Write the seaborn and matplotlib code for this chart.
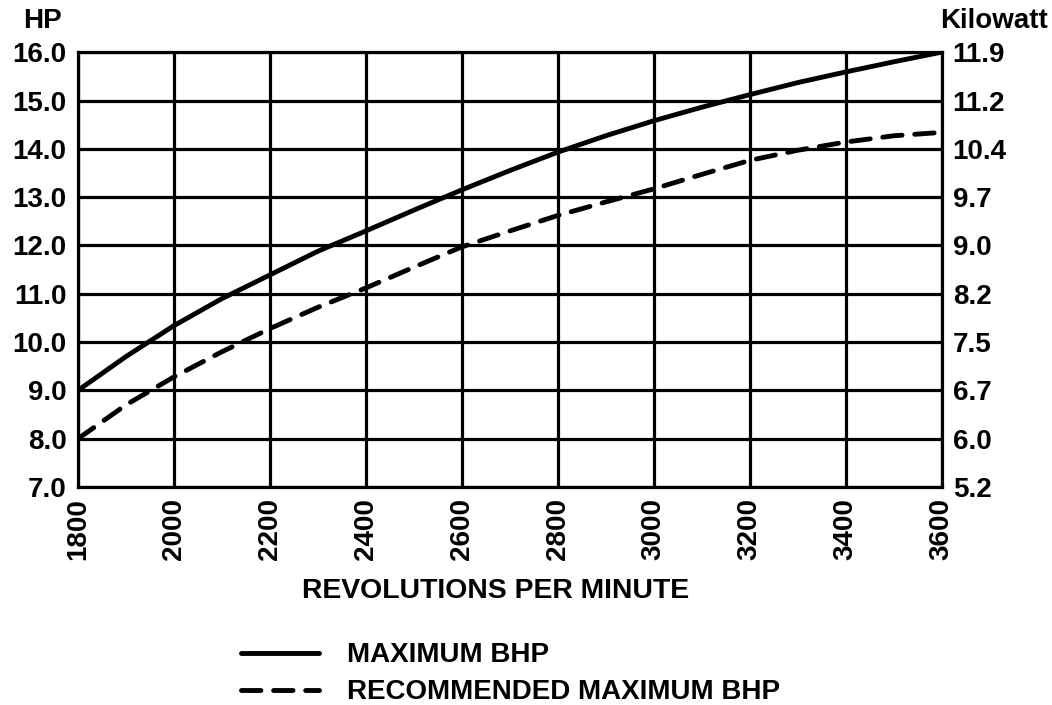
import numpy as np
import pandas as pd
import matplotlib
matplotlib.use("Agg")
import matplotlib.pyplot as plt
import seaborn as sns

# values
rpm = [1800, 1900, 2000, 2100, 2200, 2300, 2400, 2500, 2600, 2700,
       2800, 2900, 3000, 3100, 3200, 3300, 3400, 3500, 3600]
max_bhp = [9.0, 9.7, 10.34, 10.9, 11.39, 11.88, 12.3, 12.73, 13.15, 13.55,
           13.93, 14.27, 14.58, 14.86, 15.12, 15.37, 15.59, 15.8, 16.0]
rec_bhp = [8.0, 8.7, 9.28, 9.8, 10.28, 10.72, 11.12, 11.55, 11.97, 12.3,
           12.62, 12.9, 13.17, 13.47, 13.76, 13.97, 14.14, 14.27, 14.34]

series_names = ["MAXIMUM BHP", "RECOMMENDED MAXIMUM BHP"]
hp_ticks = [7, 8, 9, 10, 11, 12, 13, 14, 15, 16]
hp_labels = ["7.0", "8.0", "9.0", "10.0", "11.0", "12.0", "13.0", "14.0", "15.0", "16.0"]
kw_labels = ["5.2", "6.0", "6.7", "7.5", "8.2", "9.0", "9.7", "10.4", "11.2", "11.9"]
rpm_ticks = list(range(1800, 3601, 200))

df = pd.concat([
    pd.DataFrame({"rpm": rpm, "hp": max_bhp, "curve": series_names[0]}),
    pd.DataFrame({"rpm": rpm, "hp": rec_bhp, "curve": series_names[1]}),
])

sns.set_style("white")
plt.rcParams["font.family"] = ["Liberation Sans", "DejaVu Sans"]
plt.rcParams["font.weight"] = "bold"
for key in ["text.color", "axes.labelcolor", "xtick.color", "ytick.color"]:
    plt.rcParams[key] = "black"
FS = 20

fig = plt.figure(figsize=(10.52, 7.05), dpi=100)
ax = fig.add_axes([0.074, 0.309, 0.821, 0.617])

sns.lineplot(data=df, x="rpm", y="hp", style="curve", ax=ax,
             color="black", linewidth=3.5,
             dashes={series_names[0]: "", series_names[1]: (4.0, 2.6)},
             legend=True)
for ln in ax.lines:
    ln.set_dash_capstyle("round")
    ln.set_solid_capstyle("round")

ax.set_xlim(1800, 3600)
ax.set_ylim(7, 16)
ax.set_xticks(rpm_ticks)
ax.set_xticklabels([str(r) for r in rpm_ticks], rotation=90, fontsize=FS, fontweight="bold")
ax.set_yticks(hp_ticks)
ax.set_yticklabels(hp_labels, fontsize=FS, fontweight="bold")
ax.tick_params(length=0, pad=8)
ax.grid(True, color="black", linewidth=2.3)
for s in ax.spines.values():
    s.set_color("black")
    s.set_linewidth(2.3)
ax.set_xlabel("REVOLUTIONS PER MINUTE", fontsize=20.4, fontweight="bold")
ax.xaxis.set_label_coords(0.484, -0.208)
ax.set_ylabel("")

ax2 = ax.twinx()
ax2.set_ylim(7, 16)
ax2.set_yticks(hp_ticks)
ax2.set_yticklabels(kw_labels, fontsize=FS, fontweight="bold")
ax2.tick_params(length=0, pad=8)
for s in ax2.spines.values():
    s.set_visible(False)

fig.text(0.040, 0.988, "HP", fontsize=FS, fontweight="bold", ha="center", va="top")
fig.text(0.996, 0.988, "Kilowatt", fontsize=FS, fontweight="bold", ha="right", va="top")

handles, labels = ax.get_legend_handles_labels()
ax.get_legend().remove()
fig.legend(handles, labels, loc="upper left", bbox_to_anchor=(0.2055, 0.1245),
           frameon=False, handlelength=2.8, handletextpad=1.0, labelspacing=0.4,
           prop={"size": FS, "weight": "bold"})

fig.savefig("out.png", dpi=100)
